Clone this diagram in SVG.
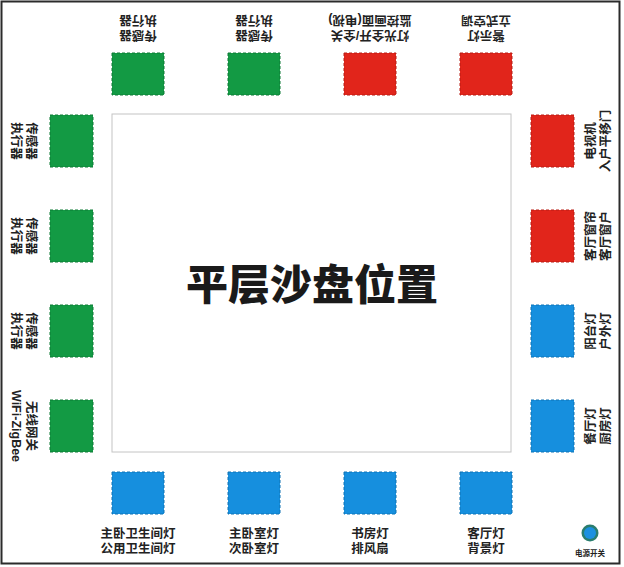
<svg xmlns="http://www.w3.org/2000/svg" width="624" height="567" viewBox="0 0 624 567">
<style>
.lbl{font-family:"Liberation Sans","Noto Sans CJK SC",sans-serif;font-size:12.5px;font-weight:700;fill:#222;text-anchor:middle}
.title{font-family:"Liberation Sans","Noto Sans CJK SC",sans-serif;font-size:42px;font-weight:900;fill:#1a1a1a;text-anchor:middle}
.small{font-family:"Liberation Sans","Noto Sans CJK SC",sans-serif;font-size:7.5px;font-weight:700;fill:#222;text-anchor:middle}
.g{fill:#139a44;stroke:#0c7a34;stroke-width:1;stroke-dasharray:3 2}
.r{fill:#e1251b;stroke:#b81c14;stroke-width:1;stroke-dasharray:3 2}
.b{fill:#168fde;stroke:#0f72b4;stroke-width:1;stroke-dasharray:3 2}
</style>
<rect x="0" y="0" width="624" height="567" fill="#ffffff"/>
<rect x="1.5" y="1.5" width="618" height="562" fill="#ffffff" stroke="#2b2b2b" stroke-width="2"/>
<g id="board">
<rect x="112" y="114" width="399" height="338" fill="#ffffff" stroke="#c4c4c4" stroke-width="1"/>
<text class="title" x="312" y="300">平层沙盘位置</text>
</g>
<g id="connectors"/>
<!-- top row -->
<g id="top1"><rect class="g" x="112" y="53" width="52" height="42"/>
<g transform="translate(138,0) rotate(180)"><text class="lbl" x="0" y="-31">传感器</text><text class="lbl" x="0" y="-16">执行器</text></g></g>
<g id="top2"><rect class="g" x="228" y="53" width="52" height="42"/>
<g transform="translate(254,0) rotate(180)"><text class="lbl" x="0" y="-31">传感器</text><text class="lbl" x="0" y="-16">执行器</text></g></g>
<g id="top3"><rect class="r" x="344" y="53" width="52" height="42"/>
<g transform="translate(370,0) rotate(180)"><text class="lbl" x="0" y="-31">灯光全开/全关</text><text class="lbl" x="0" y="-16">监控画面(电视)</text></g></g>
<g id="top4"><rect class="r" x="460" y="53" width="52" height="42"/>
<g transform="translate(486,0) rotate(180)"><text class="lbl" x="0" y="-31">警示灯</text><text class="lbl" x="0" y="-16">立式空调</text></g></g>
<!-- left column -->
<g id="left1"><rect class="g" x="50" y="115" width="43" height="52"/>
<g transform="translate(0,141) rotate(90)"><text class="lbl" x="0" y="-27">传感器</text><text class="lbl" x="0" y="-12">执行器</text></g></g>
<g id="left2"><rect class="g" x="50" y="210" width="43" height="52"/>
<g transform="translate(0,236) rotate(90)"><text class="lbl" x="0" y="-27">传感器</text><text class="lbl" x="0" y="-12">执行器</text></g></g>
<g id="left3"><rect class="g" x="50" y="305" width="43" height="52"/>
<g transform="translate(0,331) rotate(90)"><text class="lbl" x="0" y="-27">传感器</text><text class="lbl" x="0" y="-12">执行器</text></g></g>
<g id="left4"><rect class="g" x="50" y="400" width="43" height="52"/>
<g transform="translate(0,426) rotate(90)"><text class="lbl" x="0" y="-27">无线网关</text><text class="lbl" x="0" y="-12">WiFi-ZigBee</text></g></g>
<!-- right column -->
<g id="right1"><rect class="r" x="531" y="115" width="43" height="52"/>
<g transform="translate(0,141) rotate(-90)"><text class="lbl" x="0" y="595">电视机</text><text class="lbl" x="0" y="610">入户平移门</text></g></g>
<g id="right2"><rect class="r" x="531" y="210" width="43" height="52"/>
<g transform="translate(0,236) rotate(-90)"><text class="lbl" x="0" y="595">客厅窗帘</text><text class="lbl" x="0" y="610">客厅窗户</text></g></g>
<g id="right3"><rect class="b" x="531" y="305" width="43" height="52"/>
<g transform="translate(0,331) rotate(-90)"><text class="lbl" x="0" y="595">阳台灯</text><text class="lbl" x="0" y="610">户外灯</text></g></g>
<g id="right4"><rect class="b" x="531" y="400" width="43" height="52"/>
<g transform="translate(0,426) rotate(-90)"><text class="lbl" x="0" y="595">餐厅灯</text><text class="lbl" x="0" y="610">厨房灯</text></g></g>
<!-- bottom row -->
<g id="bottom1"><rect class="b" x="112" y="472" width="52" height="42"/>
<text class="lbl" x="138" y="537.5">主卧卫生间灯</text><text class="lbl" x="138" y="552.5">公用卫生间灯</text></g>
<g id="bottom2"><rect class="b" x="228" y="472" width="52" height="42"/>
<text class="lbl" x="254" y="537.5">主卧室灯</text><text class="lbl" x="254" y="552.5">次卧室灯</text></g>
<g id="bottom3"><rect class="b" x="344" y="472" width="52" height="42"/>
<text class="lbl" x="370" y="537.5">书房灯</text><text class="lbl" x="370" y="552.5">排风扇</text></g>
<g id="bottom4"><rect class="b" x="460" y="472" width="52" height="42"/>
<text class="lbl" x="486" y="537.5">客厅灯</text><text class="lbl" x="486" y="552.5">背景灯</text></g>
<!-- power switch -->
<g id="power">
<circle cx="590" cy="533" r="8.5" fill="#2a7d6e"/>
<circle cx="590" cy="533" r="6" fill="#1b90e0"/>
<text class="small" x="590" y="556">电源开关</text>
</g>
</svg>
